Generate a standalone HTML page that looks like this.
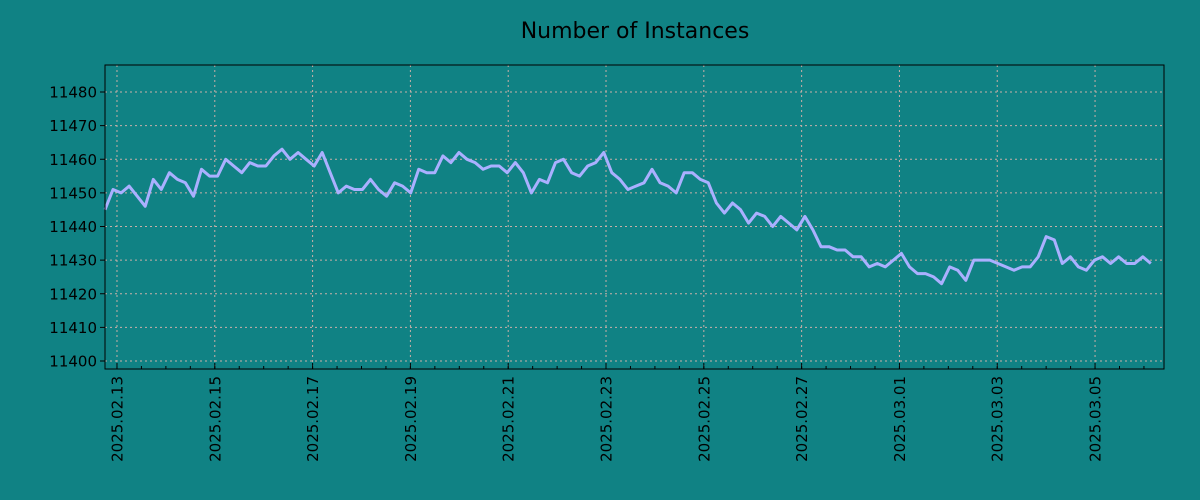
<!DOCTYPE html>
<html><head><meta charset="utf-8"><style>
body{margin:0;background:#108284;}
svg{display:block;font-family:"DejaVu Sans","Liberation Sans",sans-serif;}
</style></head><body>
<svg id="chart" width="1200" height="500">
<rect width="1200" height="500" fill="#108284"/>
<text x="635" y="38" text-anchor="middle" font-size="22" fill="#000">Number of Instances</text>
<g id="grid"></g><g id="series"></g><g id="axes"></g>
</svg>
<script>
const startTime = -0.245; // days relative to 2025.02.13
const stepDays = 0.1645;
const values = [11445,11451,11450,11452,11449,11446,11454,11451,11456,11454,11453,11449,11457,11455,11455,11460,11458,11456,11459,11458,11458,11461,11463,11460,11462,11460,11458,11462,11456,11450,11452,11451,11451,11454,11451,11449,11453,11452,11450,11457,11456,11456,11461,11459,11462,11460,11459,11457,11458,11458,11456,11459,11456,11450,11454,11453,11459,11460,11456,11455,11458,11459,11462,11456,11454,11451,11452,11453,11457,11453,11452,11450,11456,11456,11454,11453,11447,11444,11447,11445,11441,11444,11443,11440,11443,11441,11439,11443,11439,11434,11434,11433,11433,11431,11431,11428,11429,11428,11430,11432,11428,11426,11426,11425,11423,11428,11427,11424,11430,11430,11430,11429,11428,11427,11428,11428,11431,11437,11436,11429,11431,11428,11427,11430,11431,11429,11431,11429,11429,11431,11429];
const yTicks = [11400,11410,11420,11430,11440,11450,11460,11470,11480];
const xTickDays = [0,2,4,6,8,10,12,14,16,18,20];
const xTickLabels = ["2025.02.13","2025.02.15","2025.02.17","2025.02.19","2025.02.21","2025.02.23","2025.02.25","2025.02.27","2025.03.01","2025.03.03","2025.03.05"];

const L=105,R=1164,T=65,B=369;
const xMin=-0.245,xMax=21.41;
const NS='http://www.w3.org/2000/svg';
const x=d=>L+(d-xMin)/(xMax-xMin)*(R-L);
const y=v=>92+(11480-v)*3.3625;
function mk(tag,attrs,parent){const e=document.createElementNS(NS,tag);for(const k in attrs)e.setAttribute(k,attrs[k]);parent.appendChild(e);return e;}
const grid=document.getElementById('grid'),axes=document.getElementById('axes'),ser=document.getElementById('series');
yTicks.forEach(v=>{
 const g=mk('line',{x1:L,x2:R,y1:y(v),y2:y(v),stroke:'#c8b0a8','stroke-dasharray':'2,3','stroke-width':1},grid);
 
 
 const t=mk('line',{x1:L-5,x2:L,y1:y(v),y2:y(v),stroke:'#000'},axes);
 
 
 const tx=mk('text',{x:L-8,y:y(v)+5.5,'text-anchor':'end','font-size':15,fill:'#000'},axes);
 tx.textContent=v;
 
 
});
for(let d=-0.5;d<=xMax;d+=0.5){
 if(d<xMin)continue;
 const m=mk('line',{x1:x(d),x2:x(d),y1:B,y2:B-3,stroke:'#000'},axes);
 
 
}
xTickDays.forEach((d,i)=>{
 const g=mk('line',{x1:x(d),x2:x(d),y1:T,y2:B,stroke:'#c8b0a8','stroke-dasharray':'2,3','stroke-width':1},grid);
 
 
 const t=mk('line',{x1:x(d),x2:x(d),y1:B,y2:B-6,stroke:'#000'},axes);
 
 
 const tx=mk('text',{x:0,y:0,'text-anchor':'end','font-size':15,fill:'#000',transform:`translate(${x(d)+5.5},376) rotate(-90)`},axes);
 tx.textContent=xTickLabels[i];
 
 
});
const pts=values.map((v,i)=>x(startTime+i*stepDays).toFixed(1)+','+y(v).toFixed(1)).join(' ');
const pl=mk('polyline',{points:pts,fill:'none',stroke:'#aab0ff','stroke-width':3,'stroke-linejoin':'round'},ser);


const fr=mk('rect',{x:L,y:T,width:R-L,height:B-T,fill:'none',stroke:'#000','stroke-width':1},axes);


</script>
</body></html>
